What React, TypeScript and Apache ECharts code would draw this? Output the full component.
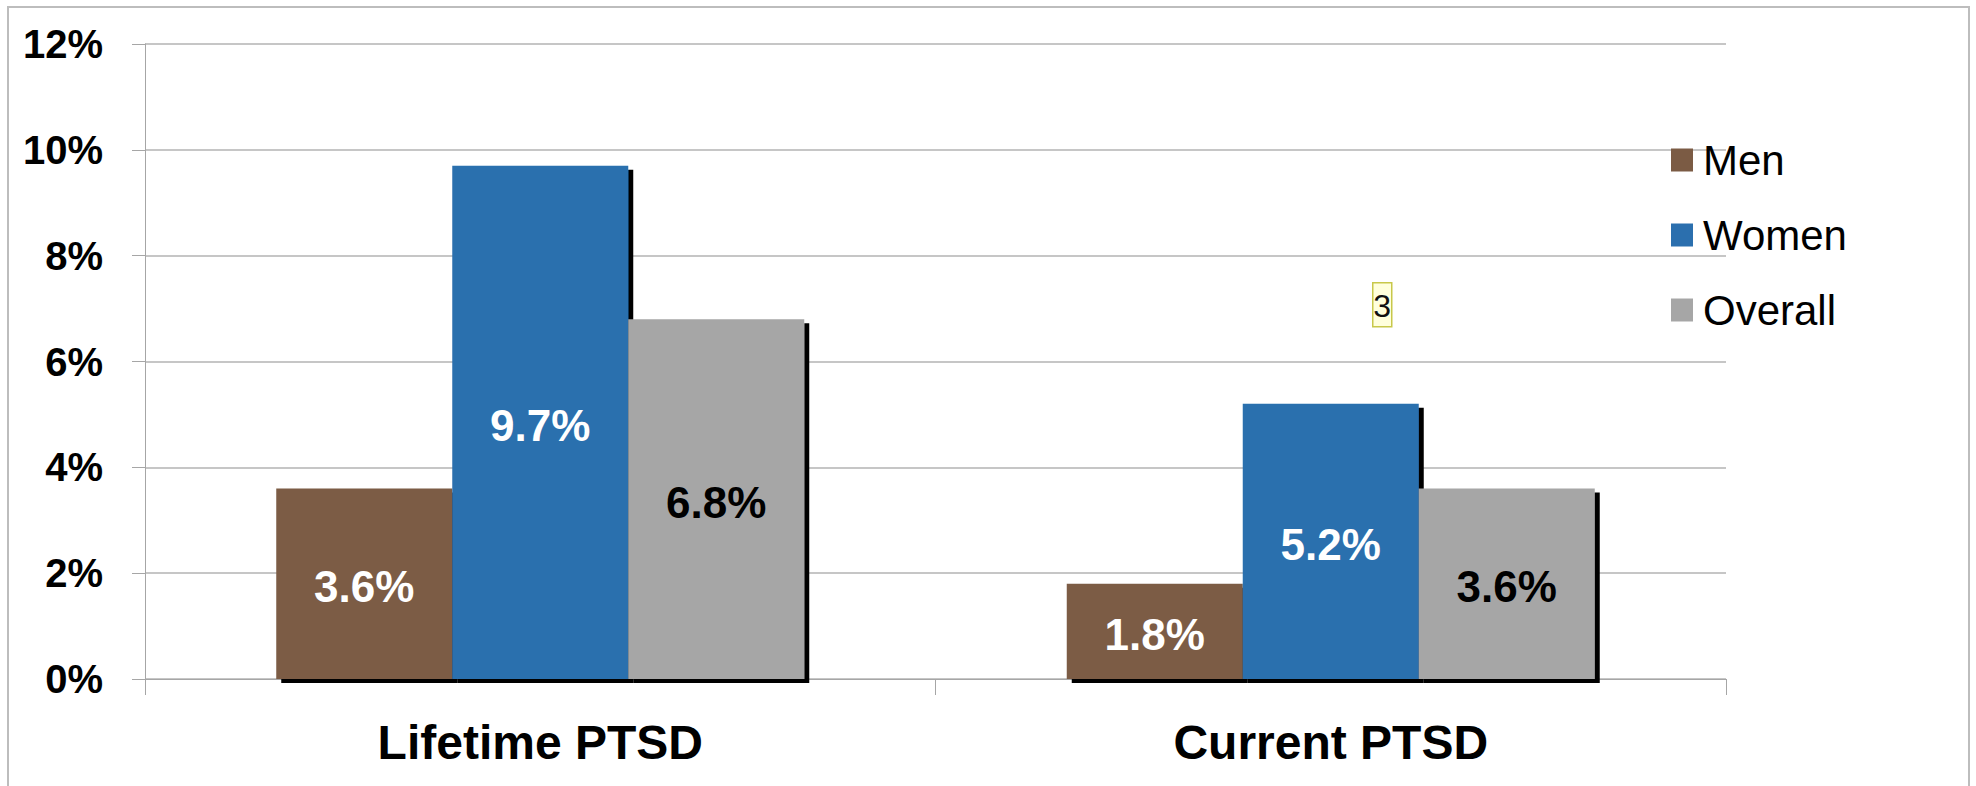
import React, { useEffect, useRef } from "react";
import * as echarts from "echarts";

const categories = ["Lifetime PTSD", "Current PTSD"];
const seriesNames = ["Men", "Women", "Overall"];
const menValues = [3.6, 1.8];
const womenValues = [9.7, 5.2];
const overallValues = [6.8, 3.6];
const yMin = 0;
const yMax = 12;
const yInterval = 2;
const noteText = "3";

const colors = ["#7B5B44", "#2B6FAE", "#A6A6A6"];
const labelColors = ["#ffffff", "#ffffff", "#000000"];
const FONT = "'Liberation Sans', Arial, sans-serif";

export default function App() {
  const ref = useRef<HTMLDivElement>(null);

  useEffect(() => {
    if (!ref.current) return;
    const chart = echarts.init(ref.current, undefined, { renderer: "svg" });
    const allValues = [menValues, womenValues, overallValues];
    chart.setOption({
      animation: false,
      backgroundColor: "#ffffff",
      textStyle: { fontFamily: FONT },
      grid: { left: 145, right: 250, top: 44, bottom: 107, containLabel: false },
      legend: {
        orient: "vertical",
        left: 1671,
        top: 138,
        padding: 0,
        icon: "rect",
        itemWidth: 22,
        itemHeight: 23,
        itemGap: 31,
        data: seriesNames,
        textStyle: {
          fontFamily: FONT,
          fontSize: 42,
          lineHeight: 44,
          color: "#000000",
          padding: [0, 0, 0, 5],
        },
      },
      xAxis: {
        type: "category",
        data: categories,
        axisLine: { show: true, lineStyle: { color: "#a6a6a6", width: 1 } },
        axisTick: { show: true, length: 16, lineStyle: { color: "#a6a6a6" } },
        axisLabel: {
          fontFamily: FONT,
          fontSize: 48,
          fontWeight: "bold",
          color: "#000000",
          lineHeight: 48,
          margin: 39,
        },
        splitLine: { show: false },
      },
      yAxis: {
        type: "value",
        min: yMin,
        max: yMax,
        interval: yInterval,
        axisLine: { show: true, lineStyle: { color: "#a6a6a6", width: 1 } },
        axisTick: { show: true, length: 13, lineStyle: { color: "#a6a6a6" } },
        axisLabel: {
          formatter: "{value}%",
          fontFamily: FONT,
          fontSize: 40,
          fontWeight: "bold",
          color: "#000000",
          margin: 42,
        },
        splitLine: { show: true, lineStyle: { color: "#b3b3b3", width: 1.5 } },
      },
      series: seriesNames.map((name, i) => ({
        name,
        type: "bar",
        data: allValues[i],
        barWidth: 176,
        barGap: "0%",
        itemStyle: {
          color: colors[i],
          shadowColor: "#000000",
          shadowOffsetX: 5,
          shadowOffsetY: 4,
          shadowBlur: 0,
        },
        label: {
          show: true,
          position: "inside",
          offset: [0, 3],
          formatter: (p: any) => `${Number(p.value).toFixed(1)}%`,
          fontFamily: FONT,
          fontSize: 44,
          fontWeight: "bold",
          color: labelColors[i],
        },
      })),
      graphic: [
        {
          type: "rect",
          silent: true,
          shape: { x: 8, y: 7, width: 1961, height: 800 },
          style: { fill: "none", stroke: "#bdbdbd", lineWidth: 2 },
          z: 100,
        },
        {
          type: "group",
          left: 1372,
          top: 282,
          children: [
            {
              type: "rect",
              shape: { x: 0, y: 0, width: 19, height: 44 },
              style: { fill: "#ffffdc", stroke: "#c8c84a", lineWidth: 1.5 },
            },
            {
              type: "text",
              x: 9.5,
              y: 23,
              style: {
                text: noteText,
                fontFamily: FONT,
                fontSize: 32,
                fill: "#111111",
                align: "center",
                verticalAlign: "middle",
              },
            },
          ],
        },
      ],
    });
    return () => chart.dispose();
  }, []);

  return (
    <div
      ref={ref}
      style={{ position: "absolute", left: 0, top: 0, width: 1976, height: 786 }}
    />
  );
}
